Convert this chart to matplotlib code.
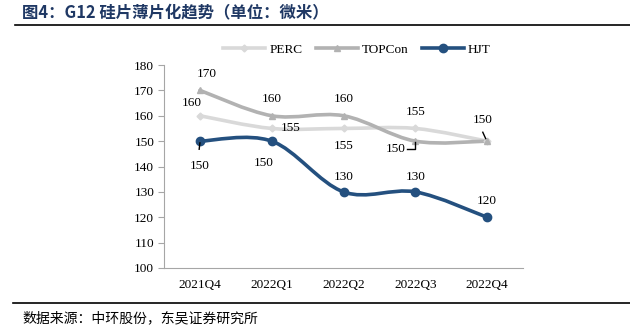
import matplotlib.pyplot as plt
from matplotlib.path import Path
from matplotlib.patches import PathPatch
from matplotlib.lines import Line2D

quarters = ['2021Q4', '2022Q1', '2022Q2', '2022Q3', '2022Q4']
perc = [160, 155, 155, 155, 150]
topcon = [170, 160, 160, 150, 150]
hjt = [150, 150, 130, 130, 120]

serif = ['Liberation Serif', 'Noto Sans CJK SC']
cjk = ['Noto Sans CJK SC', 'Liberation Serif']


def smooth_path(xs, ys):
    # Excel-style smoothed line: cubic Bezier through each point
    pts = list(zip(xs, ys))
    n = len(pts)
    verts = [pts[0]]
    codes = [Path.MOVETO]
    for i in range(n - 1):
        p0 = pts[max(i - 1, 0)]
        p1 = pts[i]
        p2 = pts[i + 1]
        p3 = pts[min(i + 2, n - 1)]
        c1 = (p1[0] + (p2[0] - p0[0]) / 6, p1[1] + (p2[1] - p0[1]) / 6)
        c2 = (p2[0] - (p3[0] - p1[0]) / 6, p2[1] - (p3[1] - p1[1]) / 6)
        verts += [c1, c2, p2]
        codes += [Path.CURVE4] * 3
    return Path(verts, codes)


fig = plt.figure(figsize=(6.3, 3.29), dpi=100)
ax = fig.add_axes([164 / 630, 1 - 268 / 329, 359 / 630, 203 / 329])

x = list(range(len(quarters)))
series = [
    ('PERC', perc, '#d9d9d9', 'D', 3.5),
    ('TOPCon', topcon, '#b2b2b2', '^', 5),
    ('HJT', hjt, '#24507f', 'o', 6),
]
handles = []
for name, vals, col, mk, ms in series:
    ax.add_patch(PathPatch(smooth_path(x, vals), facecolor='none', edgecolor=col,
                           lw=2.6, capstyle='round', zorder=2))
    ax.plot(x, vals, linestyle='none', marker=mk, markersize=ms, color=col, zorder=3)
    handles.append(Line2D([], [], color=col, lw=2.6, marker=mk, markersize=ms))

ax.set_xlim(-0.5, 4.5)
ax.set_ylim(100, 180)
ax.set_yticks(range(100, 181, 10))
ax.set_xticks(x)
ax.set_xticklabels(quarters)
for s in ['top', 'right']:
    ax.spines[s].set_visible(False)
for s in ['left', 'bottom']:
    ax.spines[s].set_color('#a6a6a6')
    ax.spines[s].set_linewidth(0.8)
ax.tick_params(axis='y', length=4, color='#a6a6a6', labelsize=9.5, pad=3)
ax.tick_params(axis='x', length=0, labelsize=9.5, pad=8)
for lab in ax.get_xticklabels() + ax.get_yticklabels():
    lab.set_fontfamily(serif)

fs = 9.5
# data labels: (x, y, text, dx, dy in points)
labels = [
    (0, perc[0], '160', -6, 9), (1, perc[1], '155', 14, 0), (2, perc[2], '155', 0, -13),
    (3, perc[3], '155', 0, 12),
    (0, topcon[0], '170', 5, 12), (1, topcon[1], '160', 0, 12), (2, topcon[2], '160', 0, 12),
    (4, topcon[4], '150', -3, 15),
    (1, hjt[1], '150', -6, -16), (2, hjt[2], '130', 0, 11), (3, hjt[3], '130', 0, 11),
    (4, hjt[4], '120', 0, 12),
    (0, hjt[0], '150', 0, -18),
]
for xi, yi, t, dx, dy in labels:
    ax.annotate(t, (xi, yi), xytext=(dx, dy), textcoords='offset points',
                ha='center', va='center', fontsize=fs, fontfamily=serif)
# labels with leader lines
ax.annotate('150', (3, topcon[3]), xytext=(-7, -6), textcoords='offset points',
            ha='right', va='center', fontsize=fs, fontfamily=serif)
ax.plot([2.89, 3.0, 3.0], [147.0, 147.0, 149.5], color='black', lw=1, zorder=4)
ax.plot([3.94, 3.98], [153.5, 151.0], color='black', lw=1, zorder=4)
ax.plot([-0.01, 0.0], [146.8, 149.3], color='black', lw=1, zorder=4)

leg = fig.legend(handles, ['PERC', 'TOPCon', 'HJT'], loc='center', ncol=3,
                 bbox_to_anchor=(357 / 630, 1 - 50 / 329), frameon=False,
                 prop={'family': serif, 'size': 9.5}, handlelength=3.2,
                 columnspacing=1.0, handletextpad=0.3)

fig.text(22 / 630, 1 - 12 / 329, '图4：G12 硅片薄片化趋势（单位：微米）', fontsize=11.8,
         fontweight='bold', color='#1f3864', va='center', ha='left', fontfamily=cjk)
fig.add_artist(Line2D([15 / 630, 1], [1 - 25 / 329] * 2, color='black', lw=1.2))
fig.add_artist(Line2D([13 / 630, 1], [1 - 303 / 329] * 2, color='black', lw=1.2))
fig.text(22 / 630, 1 - 318 / 329, '数据来源：中环股份，东吴证券研究所', fontsize=10,
         va='center', ha='left', fontfamily=cjk)

fig.savefig('out.png', dpi=100)
